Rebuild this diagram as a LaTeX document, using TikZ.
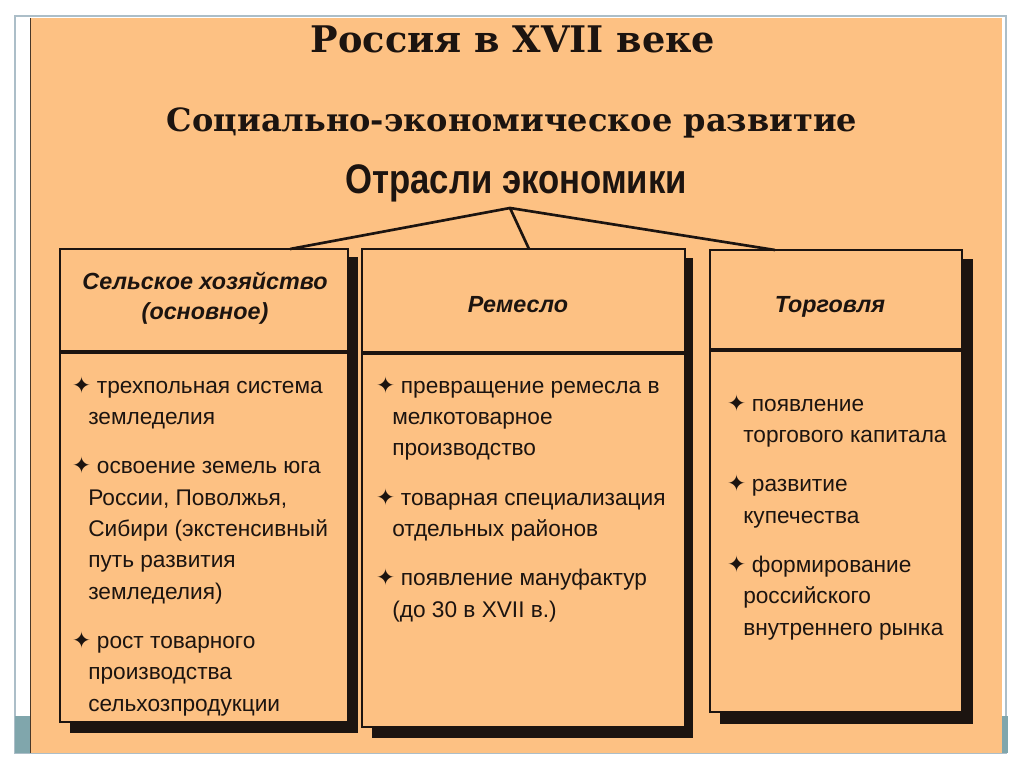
\documentclass[tikz,border=0pt]{standalone}
\usepackage{fontspec}
\setmainfont{Liberation Sans}
\newfontfamily\titlefont{DejaVu Serif}
\newfontfamily\narrowfont[FakeStretch=0.84]{Liberation Sans}
\newfontfamily\symfont{DejaVu Sans}
\definecolor{slidebg}{RGB}{253,193,131}
\definecolor{ink}{RGB}{28,20,16}
\definecolor{framegray}{RGB}{172,190,200}
\definecolor{stripteal}{RGB}{128,166,172}
\newcommand{\itm}{\hspace*{-10pt}\makebox[10pt][c]{\symfont\fontsize{17}{17}\selectfont ✦}\hspace{6.5pt}}
\tikzset{
  headtext/.style={font=\fontsize{17.5}{22.5}\selectfont\bfseries\itshape, align=center, text=ink, inner sep=0pt},
  bodytext/.style={font=\fontsize{17}{23.5}\selectfont, align=left, anchor=north west, inner sep=0pt, text=ink},
  boxframe/.style={draw=ink, line width=1.1pt, fill=slidebg},
  branchline/.style={draw=ink, line width=2pt},
}

\begin{document}
\begin{tikzpicture}[x=0.75pt, y=-0.75pt]
  \useasboundingbox (0,0) rectangle (1024,767);
  % slide frame
  \fill[white] (0,0) rectangle (1024,767);
  \draw[framegray, line width=0.8pt] (15,16) rectangle (1006,753);
  \fill[stripteal] (15,716) rectangle (30,753);
  \fill[stripteal] (1002,716) rectangle (1008,753);
  \fill[slidebg] (30,18) rectangle (1002,753);
  \draw[ink!80!slidebg, line width=1pt] (30.5,18) -- (30.5,753);

  % headings
  \node[font=\titlefont\bfseries\fontsize{27.5}{27.5}\selectfont, text=ink, anchor=base] (title) at (513,53) {Россия в XVII веке};
  \node[font=\titlefont\bfseries\fontsize{24}{24}\selectfont, text=ink, anchor=base] (subtitle) at (512,131) {Социально-экономическое развитие};
  \node[font=\narrowfont\bfseries\fontsize{31}{31}\selectfont, text=ink, anchor=base] (branches) at (516,193) {Отрасли экономики};

  % boxes with shadows
  \fill[ink] (70,257) rectangle (358,733);
  \draw[boxframe] (60,249) rectangle (348,722);
  \draw[ink, line width=2.4pt] (60,352) -- (352,352);
  \fill[ink] (372,258) rectangle (693,738);
  \draw[boxframe] (362,249) rectangle (685,727);
  \draw[ink, line width=2.4pt] (362,353) -- (689,353);
  \fill[ink] (720,259) rectangle (973,724);
  \draw[boxframe] (710,250) rectangle (962,712);
  \draw[ink, line width=2.4pt] (710,350) -- (966,350);

  % connectors
  \coordinate (apex) at (510,208);
  \coordinate (agriTop) at (290,249);
  \coordinate (craftTop) at (529,249);
  \coordinate (tradeTop) at (775,250);
  \draw[branchline] (agriTop) -- (apex) -- (tradeTop);
  \draw[branchline] (apex) -- (craftTop);

  % box headers
  \node[headtext] (agriHead) at (205,298) {Сельское хозяйство\\(основное)};
  \node[headtext, anchor=base] (craftHead) at (518,312) {Ремесло};
  \node[headtext, anchor=base] (tradeHead) at (830,312) {Торговля};

  % box contents
  \node[bodytext] (agriBody) at (88,369) {\rule{0pt}{18pt}\itm трехпольная система\\
    земледелия\\[13.5pt]
    \itm освоение земель юга\\
    России, Поволжья,\\
    Сибири (экстенсивный\\
    путь развития\\
    земледелия)\\[13.5pt]
    \itm рост товарного\\
    производства\\
    сельхозпродукции};
  \node[bodytext] (craftBody) at (392,369) {\rule{0pt}{18pt}\itm превращение ремесла в\\
    мелкотоварное\\
    производство\\[13.5pt]
    \itm товарная специализация\\
    отдельных районов\\[13.5pt]
    \itm появление мануфактур\\
    (до 30 в XVII в.)};
  \node[bodytext] (tradeBody) at (743,387) {\rule{0pt}{18pt}\itm появление\\
    торгового капитала\\[13.5pt]
    \itm развитие\\
    купечества\\[13.5pt]
    \itm формирование\\
    российского\\
    внутреннего рынка};
\end{tikzpicture}
\end{document}
